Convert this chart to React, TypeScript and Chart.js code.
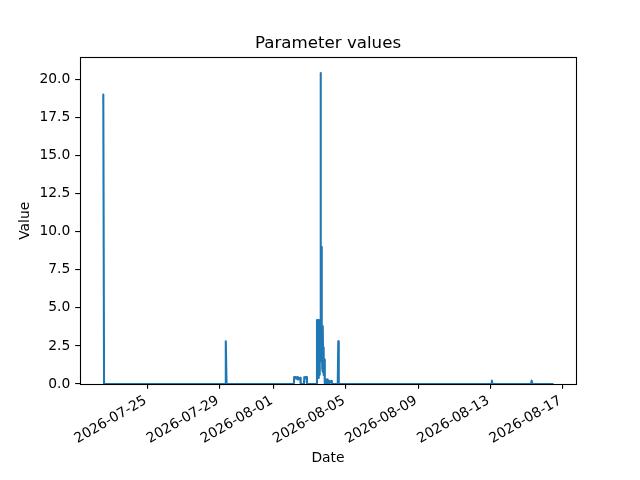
import { useEffect, useRef } from "react";
import { Chart, registerables } from "chart.js";
import type { Plugin } from "chart.js";

Chart.register(...registerables);

// readings (UTC), mostly zero with a few bursts
const timestamps = [
  "2026-07-22 12:00", "2026-07-22 13:00", "2026-07-22 14:00",
  "2026-07-29 07:00", "2026-07-29 08:00", "2026-07-29 09:00",
  "2026-08-02 02:30", "2026-08-02 03:00", "2026-08-02 04:00", "2026-08-02 05:00",
  "2026-08-02 06:00", "2026-08-02 07:00", "2026-08-02 08:00", "2026-08-02 09:00",
  "2026-08-02 10:00", "2026-08-02 11:00", "2026-08-02 11:40",
  "2026-08-02 16:00", "2026-08-02 16:30", "2026-08-02 17:30", "2026-08-02 18:30",
  "2026-08-02 19:30", "2026-08-02 20:00",
  "2026-08-03 09:00", "2026-08-03 09:20", "2026-08-03 09:40", "2026-08-03 10:00",
  "2026-08-03 10:20", "2026-08-03 10:40", "2026-08-03 11:00", "2026-08-03 11:20",
  "2026-08-03 11:40", "2026-08-03 12:00", "2026-08-03 12:20", "2026-08-03 12:40",
  "2026-08-03 13:00", "2026-08-03 13:20", "2026-08-03 13:40", "2026-08-03 14:00",
  "2026-08-03 14:20", "2026-08-03 14:40", "2026-08-03 15:00", "2026-08-03 15:20",
  "2026-08-03 15:40", "2026-08-03 16:00", "2026-08-03 16:20", "2026-08-03 16:40",
  "2026-08-03 17:00", "2026-08-03 17:20", "2026-08-03 17:40", "2026-08-03 18:00",
  "2026-08-03 18:30", "2026-08-03 19:00", "2026-08-03 19:30", "2026-08-03 20:00",
  "2026-08-03 21:20", "2026-08-03 21:40", "2026-08-03 22:40", "2026-08-03 23:40",
  "2026-08-04 00:00", "2026-08-04 01:40", "2026-08-04 02:00", "2026-08-04 03:30",
  "2026-08-04 05:00", "2026-08-04 05:20",
  "2026-08-04 13:00", "2026-08-04 13:40", "2026-08-04 14:20",
  "2026-08-13 01:00", "2026-08-13 02:00", "2026-08-13 03:00",
  "2026-08-15 06:00", "2026-08-15 07:00", "2026-08-15 08:00",
  "2026-08-16 12:00",
];

const values = [
  19.0, 19.0, 0,
  0, 2.8, 0,
  0, 0.45, 0.4, 0.45,
  0.35, 0.45, 0.3, 0.4,
  0.35, 0.4, 0,
  0, 0.45, 0.4, 0.45,
  0.45, 0,
  0, 4.2, 0.5, 4.1,
  0.8, 4.2, 0.4, 4.2,
  1.0, 4.1, 0.6, 4.2,
  1.2, 4.2, 1.8, 20.4,
  2.0, 9.0, 1.5, 9.0,
  2.2, 3.8, 1.0, 3.7,
  0.8, 3.8, 1.2, 2.4,
  0.6, 1.6, 0.4, 0,
  0, 0.3, 0.25, 0.3,
  0, 0, 0.2, 0.15,
  0.2, 0,
  0, 2.8, 0,
  0, 0.22, 0,
  0, 0.22, 0,
  0,
];

const xTickDates = [
  "2026-07-25", "2026-07-29", "2026-08-01", "2026-08-05",
  "2026-08-09", "2026-08-13", "2026-08-17",
];

const yTickValues = [0, 2.5, 5, 7.5, 10, 12.5, 15, 17.5, 20];

const toMs = (s: string) =>
  Date.parse(s.length > 10 ? s.replace(" ", "T") + ":00Z" : s + "T00:00:00Z");

// matplotlib draws the axes box on top of the line
const frame: Plugin<"line"> = {
  id: "frame",
  afterDatasetsDraw(chart) {
    const { ctx, chartArea: a } = chart;
    const l = Math.floor(a.left) + 0.5;
    const t = Math.floor(a.top) + 0.5;
    const r = Math.floor(a.right) + 0.5;
    const b = Math.floor(a.bottom) + 0.5;
    ctx.save();
    ctx.strokeStyle = "#000";
    ctx.lineWidth = 1.1;
    ctx.strokeRect(l, t, r - l, b - t);
    ctx.restore();
  },
};

export default function App() {
  const canvasRef = useRef<HTMLCanvasElement>(null);

  useEffect(() => {
    if (!canvasRef.current) return;
    document.body.style.margin = "0";
    Chart.defaults.font.family = "'DejaVu Sans', sans-serif";

    const xs = timestamps.map(toMs);
    const span = xs[xs.length - 1] - xs[0];
    const xMin = xs[0] - span * 0.05;
    const xMax = xs[xs.length - 1] + span * 0.05;
    const yMax = Math.max(...values) * 1.05;

    const chart = new Chart(canvasRef.current, {
      type: "line",
      data: {
        datasets: [
          {
            data: xs.map((x, i) => ({ x, y: values[i] })),
            borderColor: "#1f77b4",
            borderWidth: 2.08,
            borderJoinStyle: "round",
            borderCapStyle: "butt",
            pointRadius: 0,
            tension: 0,
            clip: 0,
          },
        ],
      },
      options: {
        animation: false,
        responsive: false,
        layout: { padding: { left: 0, right: 64, top: 0, bottom: 0 } },
        plugins: {
          legend: { display: false },
          tooltip: { enabled: false },
          title: {
            display: true,
            text: "Parameter values",
            color: "#000",
            fullSize: false,
            font: { size: 16.67, weight: "normal" },
            padding: { top: 33.5, bottom: 4.1 },
          },
        },
        scales: {
          x: {
            type: "linear",
            min: xMin,
            max: xMax,
            afterBuildTicks: (scale) => {
              scale.ticks = xTickDates.map((d) => ({ value: toMs(d) }));
            },
            afterFit: (scale) => {
              scale.height = 96;
            },
            ticks: {
              autoSkip: false,
              minRotation: 30,
              maxRotation: 30,
              labelOffset: -2,
              padding: 3.7,
              color: "#000",
              font: { size: 13.89 },
              callback: (_v, i) => xTickDates[i],
            },
            grid: { drawOnChartArea: false, tickLength: 4.86, color: "#000", lineWidth: 1.1 },
            border: { display: false },
            title: {
              display: true,
              text: "Date",
              color: "#000",
              font: { size: 13.89 },
              padding: { top: 0, bottom: 12.8 },
            },
          },
          y: {
            type: "linear",
            min: 0,
            max: yMax,
            afterBuildTicks: (scale) => {
              scale.ticks = yTickValues.map((v) => ({ value: v }));
            },
            afterFit: (scale) => {
              scale.width = 80;
            },
            ticks: {
              padding: 4.86,
              color: "#000",
              font: { size: 13.89 },
              callback: (v) => Number(v).toFixed(1),
            },
            grid: { drawOnChartArea: false, tickLength: 4.86, color: "#000", lineWidth: 1.1 },
            border: { display: false },
            title: {
              display: true,
              text: "Value",
              color: "#000",
              font: { size: 13.89 },
              padding: { top: 17.2, bottom: 0 },
            },
          },
        },
      },
      plugins: [frame],
    });

    return () => {
      chart.destroy();
    };
  }, []);

  return (
    <div style={{ width: 640, height: 480 }}>
      <canvas ref={canvasRef} width={640} height={480} style={{ display: "block" }} />
    </div>
  );
}
